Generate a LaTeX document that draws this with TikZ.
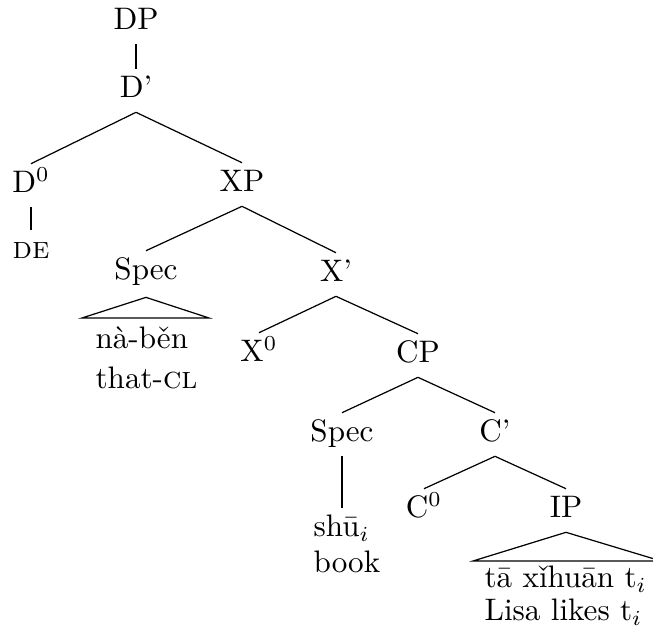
\documentclass[tikz,border=0pt]{standalone}
\usepackage{fontspec}
\begin{document}
\begin{tikzpicture}[x=0.3279pt,y=-0.3279pt,
  every node/.style={font=\fontsize{10.2pt}{12pt}\selectfont},
  cat/.style={inner sep=0pt,anchor=base,text height=9.4pt,text depth=4.5pt},
  word/.style={inner sep=0pt,anchor=base west,text height=9.4pt,text depth=2pt},
  branch/.style={line width=0.4pt}]
\useasboundingbox (0,0) rectangle (653,636);

% category labels
\node[cat] (dp)    at (136,30)  {DP};
\node[cat] (dbar)  at (136,98)  {D'};
\node[cat] (d0)    at (31,193)  {D$^0$};
\node[cat] (de)    at (31,259)  {\textsc{de}};
\node[cat] (xp)    at (242,192) {XP};
\node[cat] (spec1) at (146,280) {Spec};
\node[cat] (xbar)  at (336,282) {X'};
\node[cat] (x0)    at (259,362) {X$^0$};
\node[cat] (cp)    at (418,363) {CP};
\node[cat] (spec2) at (342,442) {Spec};
\node[cat] (cbar)  at (495,442) {C'};
\node[cat] (c0)    at (424,518) {C$^0$};
\node[cat] (ip)    at (566,518) {IP};

% terminal strings with glosses
\node[word] (naben)  at (95,349)  {n\`a-b\v{e}n};
\node[word] (thatcl) at (95,389)  {that-\textsc{cl}};
\node[word] (shu)    at (313,537) {sh\=u$_i$};
\node[word] (book)   at (313,573) {book};
\node[word] (ta)     at (484,588) {t\=a x\v{\i}hu\=an t$_i$};
\node[word] (lisa)   at (484,621) {Lisa likes t$_i$};

% branches
\draw[branch] (dp.south) -- (dbar.north);
\draw[branch] (dbar.south) -- (d0.north);
\draw[branch] (dbar.south) -- (xp.north);
\draw[branch] (d0.south) -- (de.north);
\draw[branch] (xp.south) -- (spec1.north);
\draw[branch] (xp.south) -- (xbar.north);
\draw[branch] (xbar.south) -- (x0.north);
\draw[branch] (xbar.south) -- (cp.north);
\draw[branch] (cp.south) -- (spec2.north);
\draw[branch] (cp.south) -- (cbar.north);
\draw[branch] (cbar.south) -- (c0.north);
\draw[branch] (cbar.south) -- (ip.north);
\draw[branch] (spec2.south) -- (spec2.south |- shu.north);

% roofs over unanalysed constituents
\coordinate (roofAl) at (82,318);
\coordinate (roofAr) at (209,318);
\draw[branch] ([yshift=-1pt]spec1.south) -- (roofAl) -- (roofAr) -- cycle;
\coordinate (roofBl) at (473,561);
\coordinate (roofBr) at (661,561);
\draw[branch] (ip.south) -- (roofBl) -- (roofBr) -- cycle;
\end{tikzpicture}
\end{document}
